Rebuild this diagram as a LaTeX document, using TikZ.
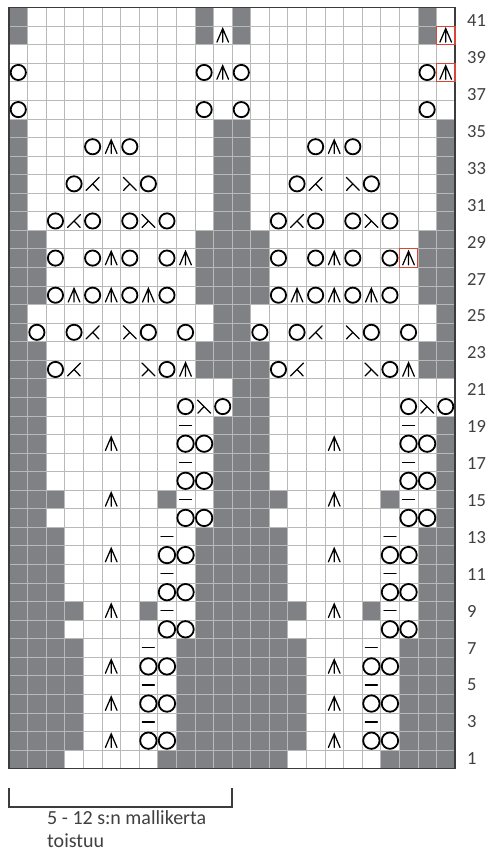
\documentclass[tikz,border=0pt]{standalone}
\usepackage{fontspec}
\setmainfont{Carlito}
\definecolor{cellgray}{RGB}{127,129,133}
\definecolor{gridgray}{RGB}{185,185,185}
\definecolor{bordergray}{RGB}{60,60,60}
\definecolor{txtgray}{RGB}{64,64,64}
\definecolor{markred}{RGB}{215,70,55}
\tikzset{
  symline/.style={line width=1.25pt, draw=black, line cap=round},
  yoline/.style={line width=1.8pt, draw=black},
  gridline/.style={line width=0.6pt, draw=gridgray},
  frameline/.style={line width=1.5pt, draw=bordergray},
  redbox/.style={line width=1.1pt, draw=markred},
  lbl/.style={font=\fontsize{18.5}{22}\selectfont, text=txtgray, anchor=west, inner sep=0pt},
  btxt/.style={font=\fontsize{20}{24}\selectfont, text=txtgray, anchor=base west, inner sep=0pt},
  bracketline/.style={line width=1.4pt, draw=bordergray},
  pics/yo/.style={code={\draw[yoline] (0,0) circle[radius=7.6pt];}},
  pics/yy/.style={code={\draw[yoline] (0,0) circle[radius=8.2pt];}},
  pics/dec/.style={code={\draw[symline] (-5.8pt,-6.8pt) -- (0,6.8pt) -- (5.8pt,-6.8pt) (0,6.8pt) -- (0,-6.8pt);}},
  pics/ktog/.style={code={\draw[symline] (-6.5pt,-6.5pt) -- (6.5pt,6.5pt) (0,0) -- (6.2pt,-6.5pt);}},
  pics/sskp/.style={code={\draw[symline] (6.5pt,-6.5pt) -- (-6.5pt,6.5pt) (0,0) -- (-6.2pt,-6.5pt);}},
  pics/barline/.style={code={\draw[symline] (-6pt,0) -- (6pt,0);}},
}
\begin{document}
\begin{tikzpicture}[x=1pt,y=-1pt]
\useasboundingbox (0,0) rectangle (490,852);
\fill[white] (0,0) rectangle (490,852);
\begin{scope}[shift={(9,7.5)}, x=18.583pt, y=-18.561pt]
  % gray cells
  \foreach \rep in {0,12} {
    \foreach \r/\cl in {41/{1,11},40/{1,11},35/{1,12},34/{1,12},33/{1,12},32/{1,12},31/{1,12},30/{1,12},
      29/{1,2,11,12},28/{1,2,11,12},27/{1,2,11,12},26/{1,2,11,12},25/{1,12},24/{1,12},
      23/{1,2,11,12},22/{1,2,11,12},21/{1,2},20/{1,2},19/{1,2,12},18/{1,2,12},17/{1,2,12},16/{1,2,12},
      15/{1,2,3,9,12},14/{1,2,12},13/{1,2,3,11,12},12/{1,2,3,11,12},11/{1,2,3,11,12},10/{1,2,3,11,12},
      9/{1,2,3,4,8,11,12},8/{1,2,3,11,12},7/{1,2,3,4,10,11,12},6/{1,2,3,4,10,11,12},5/{1,2,3,4,10,11,12},
      4/{1,2,3,4,10,11,12},3/{1,2,3,4,10,11,12},2/{1,2,3,4,10,11,12},1/{1,2,3,9,10,11,12}} {
      \foreach \c in \cl {
        \fill[cellgray] ({\c-1+\rep},{41-\r}) rectangle ({\c+\rep},{42-\r});
      }
    }
  }
  % grid
  \foreach \i in {0,...,24} { \draw[gridline] (\i,0) -- (\i,41); }
  \foreach \j in {0,...,41} { \draw[gridline] (0,\j) -- (24,\j); }
  \draw[frameline] (0,0) rectangle (24,41);
  % symbols
  \foreach \rep in {0,12} {
    \foreach \r/\cl in {38/{1,11},36/{1,11},34/{5,7},32/{4,8},30/{3,5,7,9},28/{3,5,7,9},26/{3,5,7,9},
      24/{2,4,8,10},22/{3,9},20/{10,12}} {
      \foreach \c in \cl { \pic at ({\c-0.5+\rep},{41.5-\r}) {yo}; }
    }
    \foreach \r/\cl in {18/{10,11},16/{10,11},14/{10,11},12/{9,10},10/{9,10},8/{9,10},6/{8,9},4/{8,9},2/{8,9}} {
      \foreach \c in \cl { \pic at ({\c-0.5+\rep},{41.5-\r}) {yy}; }
    }
    \foreach \r/\cl in {40/{12},38/{12},34/{6},28/{6,10},26/{4,6,8},22/{10},18/{6},15/{6},12/{6},9/{6},6/{6},4/{6},2/{6}} {
      \foreach \c in \cl { \pic at ({\c-0.5+\rep},{41.5-\r}) {dec}; }
    }
    \foreach \r/\c in {32/5,30/4,24/5,22/4} { \pic at ({\c-0.5+\rep},{41.5-\r}) {ktog}; }
    \foreach \r/\c in {32/7,30/8,24/7,22/8,20/11} { \pic at ({\c-0.5+\rep},{41.5-\r}) {sskp}; }
    \foreach \r/\c in {19/10,17/10,15/10,13/9,11/9,9/9,7/8,5/8,3/8} { \pic at ({\c-0.5+\rep},{41.5-\r}) {barline}; }
  }
  % red marks
  \draw[redbox] (23,1) rectangle (24,2);
  \draw[redbox] (23,3) rectangle (24,4);
  \draw[redbox] (21,13) rectangle (22,14);
\end{scope}
% row numbers
\foreach \r in {1,3,...,41} {
  \node[lbl] (n\r) at (467,{20.8+(41-\r)/2*36.9}) {\r};
}
% bracket
\coordinate (bt1) at (9,788);
\coordinate (bb1) at (9,807);
\coordinate (bb2) at (232,807);
\coordinate (bt2) at (232,788);
\draw[bracketline] (bt1) -- (bb1) -- (bb2) -- (bt2);
\node[btxt] (rep1) at (47,824.5) {5 - 12 s:n mallikerta};
\node[btxt] (rep2) at (47,847.5) {toistuu};
\end{tikzpicture}
\end{document}
